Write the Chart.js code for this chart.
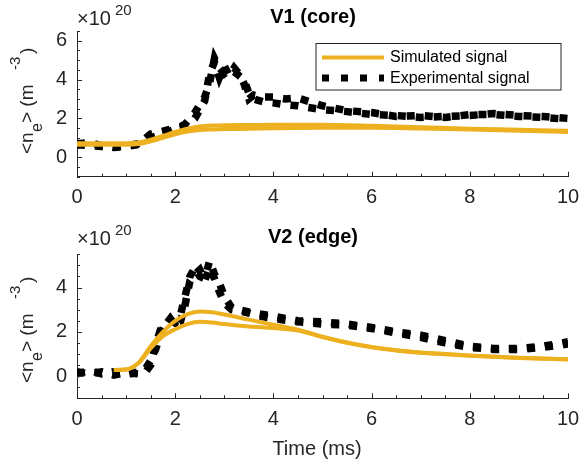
<!DOCTYPE html>
<html>
<head>
<meta charset="utf-8">
<script src="https://cdn.jsdelivr.net/npm/chart.js@4.4.0/dist/chart.umd.min.js"></script>
<style>
  html, body { margin: 0; padding: 0; background: #fff; }
  #wrap { position: relative; width: 579px; height: 464px; overflow: hidden; }
  canvas { position: absolute; left: 0; }
</style>
</head>
<body>
<div id="wrap">
  <canvas id="core" width="579" height="215" style="top:0"></canvas>
  <canvas id="edge" width="579" height="249" style="top:215px"></canvas>
</div>
<script>
// V1 (core) line-averaged density, units of 1e20 m^-3
const timeCoreExp = [0, 0.25, 0.5, 0.75, 1, 1.25, 1.5, 1.75, 2, 2.2, 2.4, 2.6, 2.7, 2.8, 2.9, 3, 3.1, 3.2, 3.3, 3.4, 3.5, 3.6, 3.8, 4, 4.25, 4.5, 4.75, 5, 5.5, 6, 6.5, 7, 7.5, 8, 8.5, 9, 9.5, 10];
const coreExpA = [0.65, 0.6, 0.55, 0.55, 0.6, 0.7, 1.0, 1.2, 1.45, 1.7, 2.3, 3.1, 3.8, 5.1, 4.6, 4.3, 4.5, 4.4, 4.2, 4.0, 3.3, 3.0, 2.85, 2.8, 2.7, 2.65, 2.55, 2.45, 2.35, 2.2, 2.15, 2.05, 2.1, 2.15, 2.25, 2.15, 2.1, 2.0];
const coreExpB = [0.7, 0.75, 0.6, 0.5, 0.55, 0.65, 1.2, 1.35, 1.5, 1.6, 2.0, 2.9, 4.3, 4.9, 4.1, 4.7, 4.2, 4.6, 4.3, 3.8, 3.0, 3.2, 3.1, 3.1, 3.0, 3.05, 2.85, 2.65, 2.4, 2.3, 2.1, 2.15, 2.05, 2.2, 2.2, 2.1, 2.05, 1.95];
const timeCoreSim = [0, 0.5, 1, 1.25, 1.5, 1.75, 2, 2.25, 2.5, 2.75, 3, 3.5, 4, 5, 6, 7, 8, 9, 10];
const coreSimA = [0.72, 0.72, 0.72, 0.76, 0.9, 1.1, 1.3, 1.47, 1.58, 1.63, 1.65, 1.66, 1.67, 1.67, 1.62, 1.55, 1.47, 1.42, 1.36];
const coreSimB = [0.64, 0.64, 0.64, 0.68, 0.82, 1.0, 1.18, 1.32, 1.4, 1.43, 1.45, 1.47, 1.5, 1.52, 1.52, 1.48, 1.43, 1.37, 1.3];

// V2 (edge)
const timeEdgeExp = [0, 0.25, 0.5, 0.75, 1, 1.25, 1.4, 1.5, 1.6, 1.7, 1.8, 1.9, 2, 2.1, 2.2, 2.3, 2.4, 2.5, 2.6, 2.7, 2.8, 2.9, 3, 3.15, 3.3, 3.5, 3.75, 4, 4.5, 5, 5.5, 6, 6.5, 7, 7.5, 8, 8.5, 9, 9.5, 10];
const edgeExpA = [0.2, 0.1, 0.2, 0.05, 0.15, 0.1, 0.35, 0.7, 1.2, 1.9, 2.4, 2.5, 2.4, 2.7, 3.6, 4.5, 4.9, 4.5, 4.4, 5.2, 4.6, 4.2, 3.6, 3.1, 3.0, 2.9, 2.8, 2.7, 2.5, 2.45, 2.35, 2.2, 2.0, 1.85, 1.6, 1.35, 1.25, 1.25, 1.35, 1.55];
const edgeExpB = [0.1, 0.25, 0.1, 0.2, 0.05, 0.2, 0.2, 0.5, 1.4, 2.1, 2.3, 2.6, 2.3, 2.4, 3.2, 4.3, 4.6, 4.8, 4.3, 4.9, 4.4, 3.8, 3.3, 3.0, 2.95, 2.85, 2.7, 2.6, 2.45, 2.35, 2.3, 2.15, 1.95, 1.75, 1.5, 1.3, 1.2, 1.2, 1.3, 1.45];
const timeEdgeSim = [0.75, 1, 1.25, 1.5, 1.75, 2, 2.25, 2.5, 2.75, 3, 3.5, 4, 4.5, 5, 5.5, 6, 6.5, 7, 7.5, 8, 9, 10];
const edgeSimA = [0.28, 0.3, 0.6, 1.35, 2.0, 2.5, 2.8, 2.92, 2.88, 2.78, 2.55, 2.32, 2.1, 1.78, 1.52, 1.32, 1.17, 1.07, 1.0, 0.93, 0.83, 0.76];
const edgeSimB = [0.28, 0.3, 0.58, 1.25, 1.8, 2.12, 2.35, 2.45, 2.42, 2.35, 2.24, 2.17, 2.06, 1.76, 1.5, 1.3, 1.16, 1.06, 0.99, 0.92, 0.82, 0.75];

// axis ticks
const xTicks = [0, 2, 4, 6, 8, 10];
const coreYTicks = [0, 2, 4, 6];
const edgeYTicks = [0, 2, 4];

const axisColor = '#262626';
const simColor = '#EDB120';
const fontFamily = "'Liberation Sans', Arial, Helvetica, sans-serif";

const pts = (xs, ys) => xs.map((x, i) => ({ x, y: ys[i] }));

// minor tick positions every `step` between lo and hi
const minorTicks = (lo, hi, step) => {
  const out = [];
  for (let v = lo; v <= hi + 1e-9; v += step) out.push(Math.round(v * 100) / 100);
  return out;
};

const simLine = (data) => ({
  data,
  borderColor: simColor,
  borderWidth: 4,
  pointRadius: 0,
  cubicInterpolationMode: 'monotone',
  fill: false,
});

const expLine = (data) => ({
  data,
  borderColor: '#000',
  borderWidth: 7.5,
  borderDash: [8, 10],
  borderCapStyle: 'butt',
  pointRadius: 0,
  tension: 0,
  fill: false,
});

// titles, x10^20 multiplier, y label with sub/superscripts, inward ticks, legend
const panelDecor = {
  id: 'panelDecor',
  afterDraw(chart, args, o) {
    const { ctx, chartArea: area, scales: { x, y } } = chart;
    ctx.save();

    ctx.strokeStyle = axisColor;
    ctx.lineWidth = 1;
    ctx.beginPath();
    o.xMinor.forEach((v) => {
      const px = Math.round(x.getPixelForValue(v)) + 0.5;
      const len = xTicks.includes(v) ? 5 : 3;
      ctx.moveTo(px, area.bottom);
      ctx.lineTo(px, area.bottom - len);
    });
    o.yMinor.forEach((v) => {
      const py = Math.round(y.getPixelForValue(v)) + 0.5;
      const len = o.yMajor.includes(v) ? 5 : 3;
      ctx.moveTo(area.left, py);
      ctx.lineTo(area.left + len, py);
    });
    ctx.stroke();

    ctx.fillStyle = '#000';
    ctx.textBaseline = 'alphabetic';
    ctx.textAlign = 'center';
    ctx.font = `bold 20px ${fontFamily}`;
    ctx.fillText(o.title, 313, o.titleY);

    ctx.fillStyle = axisColor;
    ctx.textAlign = 'left';
    ctx.font = `20px ${fontFamily}`;
    ctx.fillText('\u00d710', 77, o.multY);
    ctx.font = `15px ${fontFamily}`;
    ctx.fillText('20', 115, o.multY - 10);

    // <n_e> (m^-3), rotated
    ctx.save();
    ctx.translate(33, o.yLabelStart);
    ctx.rotate(-Math.PI / 2);
    ctx.font = `19px ${fontFamily}`;
    ctx.fillText('<n', 0, 0);
    ctx.font = `16px ${fontFamily}`;
    ctx.fillText('e', 22, 9);
    ctx.font = `19px ${fontFamily}`;
    ctx.fillText('> (m', 31, 0);
    ctx.font = `15px ${fontFamily}`;
    ctx.fillText('-3', 84, -13);
    ctx.font = `19px ${fontFamily}`;
    ctx.fillText(')', 100, 0);
    ctx.restore();

    if (o.xLabel) {
      ctx.textAlign = 'center';
      ctx.font = `20px ${fontFamily}`;
      ctx.fillText(o.xLabel, 317, o.xLabelY);
    }

    if (o.legend) {
      ctx.fillStyle = '#fff';
      ctx.fillRect(316, 43.5, 245, 46.5);
      ctx.strokeStyle = axisColor;
      ctx.lineWidth = 1;
      ctx.strokeRect(316, 43.5, 245, 46.5);

      ctx.strokeStyle = simColor;
      ctx.lineWidth = 4;
      ctx.beginPath();
      ctx.moveTo(322, 57.5);
      ctx.lineTo(384, 57.5);
      ctx.stroke();

      ctx.strokeStyle = '#000';
      ctx.lineWidth = 7;
      ctx.lineCap = 'butt';
      ctx.setLineDash([7, 12]);
      ctx.beginPath();
      ctx.moveTo(322, 78);
      ctx.lineTo(384, 78);
      ctx.stroke();
      ctx.setLineDash([]);

      ctx.fillStyle = '#000';
      ctx.textAlign = 'left';
      ctx.textBaseline = 'middle';
      ctx.font = `16px ${fontFamily}`;
      ctx.fillText('Simulated signal', 390, 58);
      ctx.fillText('Experimental signal', 390, 78.5);
    }
    ctx.restore();
  },
};

const makePanel = (id, p) => {
  const ctx = document.getElementById(id).getContext('2d');
  return new Chart(ctx, {
    type: 'line',
    data: {
      datasets: [
        simLine(pts(p.simX, p.simA)),
        simLine(pts(p.simX, p.simB)),
        expLine(pts(p.expX, p.expA)),
        expLine(pts(p.expX, p.expB)),
      ],
    },
    plugins: [panelDecor],
    options: {
      responsive: false,
      animation: false,
      events: [],
      layout: { padding: { top: p.top, right: 11, bottom: 0, left: 0 } },
      scales: {
        x: {
          type: 'linear',
          min: 0,
          max: 10,
          afterBuildTicks: (s) => { s.ticks = xTicks.map((v) => ({ value: v })); },
          afterFit: (s) => {
            s.height = p.xAxisHeight;
            // keep the end labels from pushing the plot area inwards
            s.paddingLeft = 0;
            s.paddingRight = 0;
          },
          ticks: {
            autoSkip: false,
            maxRotation: 0,
            padding: 9,
            color: axisColor,
            font: { family: fontFamily, size: 20 },
            callback: (v) => String(v),
          },
          grid: { drawOnChartArea: false, drawTicks: false },
          border: { color: axisColor, width: 1 },
        },
        y: {
          type: 'linear',
          min: p.yMin,
          max: p.yMax,
          afterBuildTicks: (s) => { s.ticks = p.yTicks.map((v) => ({ value: v })); },
          afterFit: (s) => {
            s.width = 77;
            s.paddingTop = 0;
            s.paddingBottom = 0;
          },
          ticks: {
            padding: 10,
            color: axisColor,
            font: { family: fontFamily, size: 20 },
            callback: (v) => String(v),
          },
          grid: { drawOnChartArea: false, drawTicks: false },
          border: { color: axisColor, width: 1 },
        },
      },
      plugins: {
        legend: { display: false },
        tooltip: { enabled: false },
        panelDecor: {
          title: p.title,
          titleY: p.titleY,
          multY: p.multY,
          yLabelStart: p.yLabelStart,
          xLabel: p.xLabel,
          xLabelY: p.xLabelY,
          legend: p.legend,
          xMinor: minorTicks(0, 10, 0.5),
          yMinor: minorTicks(p.yMin, p.yMax, 0.5),
          yMajor: p.yTicks,
        },
      },
    },
  });
};

makePanel('core', {
  expX: timeCoreExp, expA: coreExpA, expB: coreExpB,
  simX: timeCoreSim, simA: coreSimA, simB: coreSimB,
  yMin: -1, yMax: 6.5, yTicks: coreYTicks,
  top: 31, xAxisHeight: 38.3,
  title: 'V1 (core)', titleY: 22.5, multY: 25, yLabelStart: 154,
  legend: true,
});

makePanel('edge', {
  expX: timeEdgeExp, expA: edgeExpA, expB: edgeExpB,
  simX: timeEdgeSim, simA: edgeSimA, simB: edgeSimB,
  yMin: -1, yMax: 5.5, yTicks: edgeYTicks,
  top: 39.3, xAxisHeight: 65.7,
  title: 'V2 (edge)', titleY: 27.5, multY: 30, yLabelStart: 168,
  xLabel: 'Time (ms)', xLabelY: 239.5,
  legend: false,
});
</script>
</body>
</html>
